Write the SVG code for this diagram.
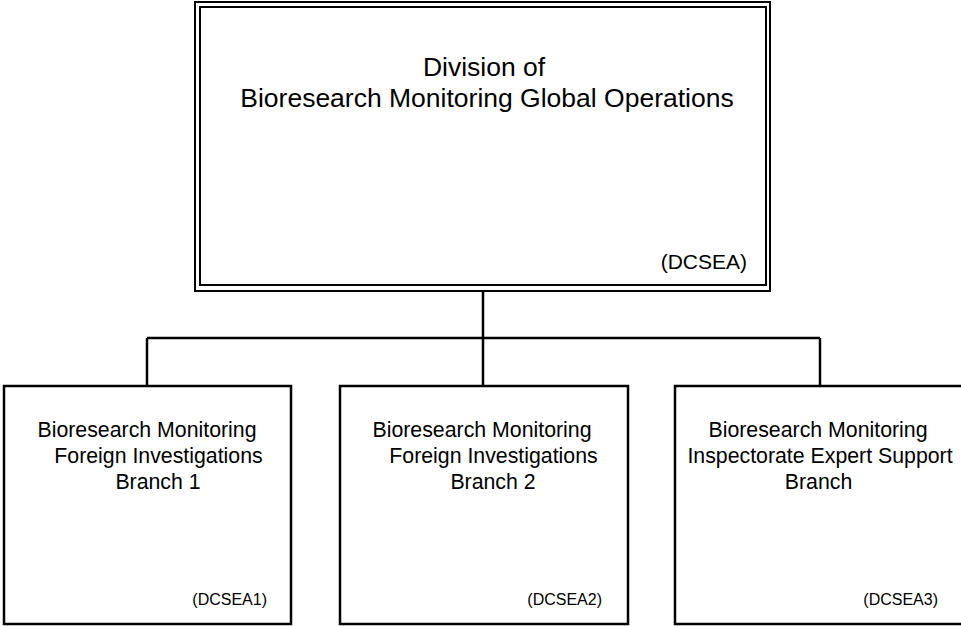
<svg xmlns="http://www.w3.org/2000/svg" width="961" height="626" viewBox="0 0 961 626">
<style>
.box{fill:#fff;stroke:#000;stroke-width:2.5}
.dbl{fill:none;stroke:#000;stroke-width:2}
.conn{fill:none;stroke:#000;stroke-width:2.5}
text{font-family:"Liberation Sans",Arial,sans-serif;fill:#000}
.t{font-size:26.5px;text-anchor:middle}
.tc{font-size:21px;text-anchor:end}
.s{font-size:21.3px;text-anchor:middle}
.sc{font-size:16px;text-anchor:end}
</style>
<rect width="961" height="626" fill="#fff"/>
<g id="connectors">
<path class="conn" d="M483,291 V338 M147,338 H820 M147,338 V386 M483,338 V386 M820,338 V386"/>
</g>
<g id="division">
<rect class="dbl" x="195" y="2" width="575" height="289"/>
<rect class="dbl" x="200" y="7" width="566" height="278"/>
<text class="t" x="484" y="76">Division of</text>
<text class="t" x="487" y="107">Bioresearch Monitoring Global Operations</text>
<text class="tc" x="747" y="269">(DCSEA)</text>
</g>
<g id="branch1">
<rect class="box" x="4" y="386" width="287" height="238"/>
<text class="s" x="147" y="437">Bioresearch Monitoring</text>
<text class="s" x="158.5" y="463">Foreign Investigations</text>
<text class="s" x="158" y="489">Branch 1</text>
<text class="sc" x="267" y="605">(DCSEA1)</text>
</g>
<g id="branch2">
<rect class="box" x="340" y="386" width="288" height="238"/>
<text class="s" x="482" y="437">Bioresearch Monitoring</text>
<text class="s" x="493.5" y="463">Foreign Investigations</text>
<text class="s" x="493" y="489">Branch 2</text>
<text class="sc" x="602" y="605">(DCSEA2)</text>
</g>
<g id="branch3">
<rect class="box" x="675" y="386" width="288" height="238"/>
<text class="s" x="818" y="437">Bioresearch Monitoring</text>
<text class="s" x="820" y="463">Inspectorate Expert Support</text>
<text class="s" x="818.5" y="489">Branch</text>
<text class="sc" x="938" y="605">(DCSEA3)</text>
</g>
</svg>
